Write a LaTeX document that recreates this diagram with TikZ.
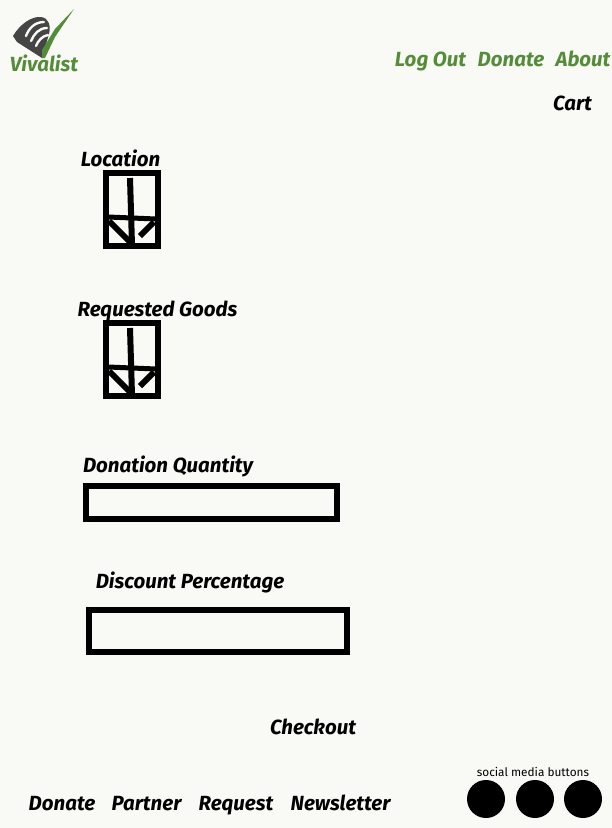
\documentclass[tikz,border=0pt]{standalone}
\usepackage{fontspec}
\setmainfont{Fira Sans}
\definecolor{pagebg}{HTML}{F9FAF5}
\definecolor{vivagreen}{HTML}{548C3A}
\definecolor{logogray}{HTML}{454545}
\tikzset{
	label/.style={font=\bfseries\itshape\fontsize{20.5}{20.5}\selectfont,inner sep=0pt,text=black,anchor=base},
	navlabel/.style={label,text=vivagreen},
	inputbox/.style={draw,line width=6pt},
	stripe/.style={draw=pagebg,line width=2.4pt,line cap=round},
	social/.style={circle,fill=black,minimum size=38pt,inner sep=0pt}
}
\begin{document}
\begin{tikzpicture}[x=1pt,y=-1pt]
	\fill[pagebg] (0,0) rectangle (612,828);
	\useasboundingbox (0,0) rectangle (612,828);
	%Logo
	\fill[logogray] (13,36) .. controls (20,24) and (32,16) .. (41,17) .. controls (49,18) and (51,26) .. (49,34) -- (42,58) -- (17,42) -- cycle;
	%Stripes
	\path[stripe] (26,36) .. controls (29,28) and (35,22) .. (44,22);
	\path[stripe] (31,41) .. controls (34,34) and (39,28) .. (47,28);
	\path[stripe] (36,46) .. controls (38,41) and (42,36) .. (48,35);
	\fill[vivagreen] (74,9) -- (55,29) -- (42,50) -- (42,58) -- (45,58) -- (55,37) -- cycle;
	\node[navlabel] (logotext) at (44,71) {Vivalist};
	%Top menu
	\node[navlabel] (logout) at (430.5,66) {Log Out};
	\node[navlabel] (donatetop) at (511,66) {Donate};
	\node[navlabel] (about) at (583,66) {About};
	\node[label] (cart) at (572.5,110) {Cart};
	%Dropdowns
	\foreach \y/\name/\x/\txt in {0/location/120.5/Location,150/goods/157.5/Requested Goods}
		{
			\node[label] (\name) at (\x,166+\y) {\txt};
			\begin{scope}[shift={(0,\y)}]
				\draw[line width=6pt] (106,173) rectangle (158,246);
				\draw[line width=6pt] (130,178) -- (132,245);
				\draw[line width=5pt] (108,217) -- (156,219);
				\draw[line width=6pt] (109,221) -- (133,245);
				\draw[line width=6pt] (154,222) -- (140,236);
			\end{scope}
		}
	%Text fields
	\node[label] (quantity) at (168,472) {Donation Quantity};
	\draw[inputbox] (86,486) rectangle (337,519);
	\node[label] (discount) at (190,588) {Discount Percentage};
	\draw[inputbox] (89,610) rectangle (347,652);
	\node[label] (checkout) at (313,734) {Checkout};
	%Footer
	\node[label] (donate) at (62,810) {Donate};
	\node[label] (partner) at (146.5,810) {Partner};
	\node[label] (request) at (236,810) {Request};
	\node[label] (newsletter) at (340.5,810) {Newsletter};
	\node[inner sep=0pt,anchor=base,font=\fontsize{11.8}{11.8}\selectfont] (socialtext) at (533,776) {social media buttons};
	\foreach \x/\name in {486/one,535/two,583/three}
		{
			\node[social] (social\name) at (\x,799) {};
		}
\end{tikzpicture}
\end{document}
